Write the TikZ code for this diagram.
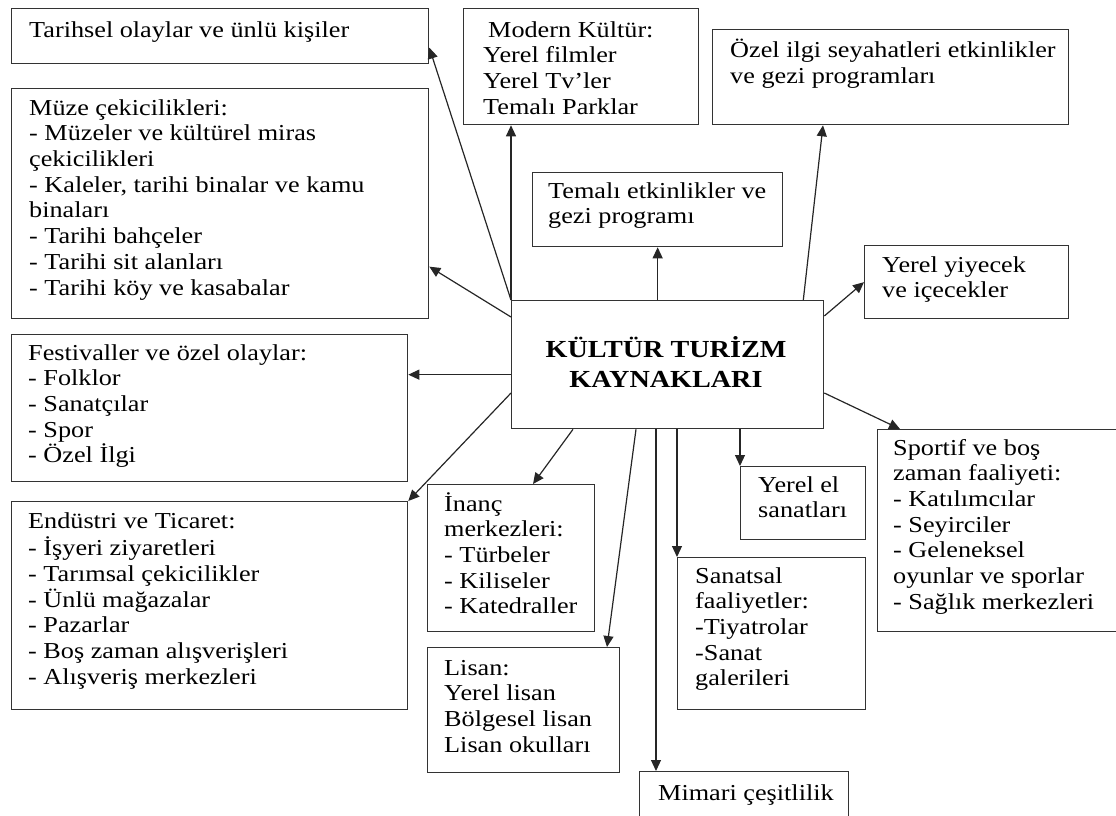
\documentclass[tikz,border=0pt]{standalone}
\usepackage{fontspec}
\setmainfont{Liberation Serif}[FakeStretch=1.15]
\usetikzlibrary{arrows.meta,calc}
\tikzset{
  box/.style={draw=black!80, line width=1.3pt, inner sep=0pt, anchor=north west},
  txt/.style={inner sep=0pt, anchor=north west, align=left, font=\fontsize{22.8}{25.7}\selectfont},
  arr/.style={draw=black!85, line width=1.2pt, -{Triangle[length=11pt,width=10pt]}}
}
\begin{document}
\begin{tikzpicture}[x=1pt,y=-1pt]
\useasboundingbox (0,0) rectangle (1116,816);
% boxes
\node[box, minimum width=417pt, minimum height=55pt]  (tar) at (11,8) {};
\node[box, minimum width=417pt, minimum height=230pt] (muz) at (11,88) {};
\node[box, minimum width=235pt, minimum height=116pt] (mod) at (463,8) {};
\node[box, minimum width=356pt, minimum height=95pt]  (ozl) at (712,29) {};
\node[box, minimum width=250pt, minimum height=74pt]  (tem) at (532,172) {};
\node[box, minimum width=204pt, minimum height=73pt]  (yiy) at (864,245) {};
\node[box, minimum width=312pt, minimum height=128pt] (c)   at (511,300) {};
\node[box, minimum width=396pt, minimum height=147pt] (fes) at (11,334) {};
\node[box, minimum width=396pt, minimum height=208pt] (end) at (11,501) {};
\node[box, minimum width=167pt, minimum height=147pt] (inc) at (427,484) {};
\node[box, minimum width=192pt, minimum height=125pt] (lis) at (427,647) {};
\node[box, minimum width=209pt, minimum height=47pt]  (mim) at (639,771) {};
\node[box, minimum width=125pt, minimum height=73pt]  (el)  at (740,466) {};
\node[box, minimum width=188pt, minimum height=152pt] (san) at (677,557) {};
\node[box, minimum width=241pt, minimum height=202pt] (spo) at (877,429) {};
% texts
\node[txt] (tar-t) at (29,19) {\strut Tarihsel olaylar ve ünlü kişiler};
\node[txt] (muz-t) at (29,97) {\strut Müze çekicilikleri:\\- Müzeler ve kültürel miras\\çekicilikleri\\- Kaleler, tarihi binalar ve kamu\\binaları\\- Tarihi bahçeler\\- Tarihi sit alanları\\- Tarihi köy ve kasabalar};
\node[txt] (mod-t) at (483,19) {\strut\hspace*{5pt}Modern Kültür:\\Yerel filmler\\Yerel Tv’ler\\Temalı Parklar};
\node[txt] (ozl-t) at (730,39) {\strut Özel ilgi seyahatleri etkinlikler\\ve gezi programları};
\node[txt] (tem-t) at (548,180) {\strut Temalı etkinlikler ve\\gezi programı};
\node[txt] (yiy-t) at (882,254) {\strut Yerel yiyecek\\ve içecekler};
\node[inner sep=0pt, anchor=north, align=center, font=\bfseries\fontsize{24.5}{30}\selectfont] (c-t) at (666,336) {\strut KÜLTÜR TURİZM\\KAYNAKLARI};
\node[txt] (fes-t) at (28,342) {\strut Festivaller ve özel olaylar:\\- Folklor\\- Sanatçılar\\- Spor\\- Özel İlgi};
\node[txt] (end-t) at (28,510) {\strut Endüstri ve Ticaret:\\- İşyeri ziyaretleri\\- Tarımsal çekicilikler\\- Ünlü mağazalar\\- Pazarlar\\- Boş zaman alışverişleri\\- Alışveriş merkezleri};
\node[txt] (inc-t) at (444,492) {\strut İnanç\\merkezleri:\\- Türbeler\\- Kiliseler\\- Katedraller};
\node[txt] (lis-t) at (444,657) {\strut Lisan:\\Yerel lisan\\Bölgesel lisan\\Lisan okulları};
\node[txt] (mim-t) at (658,782) {\strut Mimari çeşitlilik};
\node[txt] (el-t)  at (758,474) {\strut Yerel el\\sanatları};
\node[txt] (san-t) at (695,565) {\strut Sanatsal\\faaliyetler:\\-Tiyatrolar\\-Sanat\\galerileri};
\node[txt] (spo-t) at (893,437) {\strut Sportif ve boş\\zaman faaliyeti:\\- Katılımcılar\\- Seyirciler\\- Geleneksel\\oyunlar ve sporlar\\- Sağlık merkezleri};
% arrow tips
\coordinate (tTar) at ([yshift=-11.5pt]tar.east);
\coordinate (tMuz) at ([yshift=-63pt]muz.east);
\coordinate (tOzl) at ([xshift=111pt]ozl.south west);
\coordinate (tFes) at ([yshift=33.5pt]fes.east);
\coordinate (tInc) at ([xshift=106pt]inc.north west);
\coordinate (tLis) at ([xshift=180pt]lis.north west);
\coordinate (tMim) at ([xshift=17pt]mim.north west);
\coordinate (tSpo) at ([xshift=23pt]spo.north west);
% connectors
\draw[arr] (c.north west) -- (tTar);
\draw[arr] ([yshift=-17pt]c.north west) -- (tMuz);
\draw[arr] (c.north west) -- (c.north west |- mod.south);
\draw[arr] (tem.south |- c.north) -- (tem.south);
\draw[arr] ([xshift=-21pt]c.north east) -- (tOzl);
\draw[arr] ([yshift=-16pt]c.north east) -- (yiy.west);
\draw[arr] (c.west |- tFes) -- (tFes);
\draw[arr] ([yshift=-93pt]c.north west) -- (end.north east);
\draw[arr] ([xshift=62pt]c.south west) -- (tInc);
\draw[arr] ([xshift=125pt]c.south west) -- (tLis);
\draw[arr] (c.south -| tMim) -- (tMim);
\draw[arr] (c.south -| san.north west) -- (san.north west);
\draw[arr] (c.south -| el.north west) -- (el.north west);
\draw[arr] ([yshift=-93pt]c.north east) -- (tSpo);
\end{tikzpicture}
\end{document}
